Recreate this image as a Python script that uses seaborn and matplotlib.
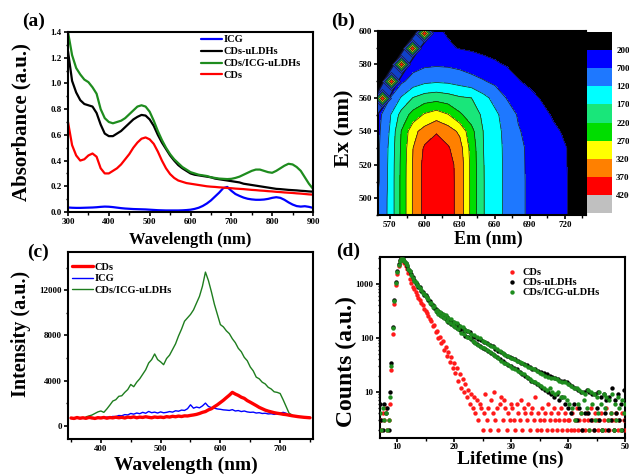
import numpy as np
import pandas as pd
import matplotlib
matplotlib.use("Agg")
import matplotlib.pyplot as plt
import seaborn as sns
from matplotlib.ticker import MultipleLocator, LogLocator, NullFormatter, FixedLocator

# ---------------- data: (a) absorbance ----------------
wl_abs = list(range(300, 901, 10))
abs_icg = [0.035, 0.033, 0.032, 0.032, 0.033, 0.034, 0.035, 0.037, 0.040, 0.042,
           0.041, 0.038, 0.034, 0.030, 0.027, 0.025, 0.023, 0.022, 0.021, 0.020,
           0.018, 0.016, 0.014, 0.013, 0.012, 0.012, 0.012, 0.012, 0.013, 0.015,
           0.018, 0.024, 0.033, 0.047, 0.066, 0.090, 0.120, 0.150, 0.185, 0.195,
           0.165, 0.140, 0.125, 0.112, 0.103, 0.098, 0.095, 0.095, 0.097, 0.102,
           0.110, 0.115, 0.110, 0.095, 0.075, 0.058, 0.046, 0.042, 0.045, 0.040, 0.032]
abs_cds_uldh = [1.25, 1.02, 0.93, 0.87, 0.84, 0.83, 0.82, 0.77, 0.68, 0.61,
                0.59, 0.59, 0.61, 0.63, 0.66, 0.69, 0.72, 0.74, 0.755, 0.75,
                0.72, 0.67, 0.60, 0.54, 0.49, 0.44, 0.40, 0.365, 0.34, 0.32,
                0.30, 0.29, 0.285, 0.28, 0.275, 0.27, 0.26, 0.255, 0.25, 0.245,
                0.24, 0.235, 0.23, 0.22, 0.215, 0.21, 0.205, 0.20, 0.195, 0.19,
                0.185, 0.18, 0.178, 0.175, 0.172, 0.17, 0.168, 0.165, 0.163, 0.16, 0.158]
abs_cds_icg_uldh = [1.40, 1.22, 1.12, 1.07, 1.03, 1.01, 0.97, 0.92, 0.80, 0.73,
                    0.70, 0.69, 0.70, 0.71, 0.73, 0.76, 0.79, 0.82, 0.83, 0.82,
                    0.78, 0.71, 0.63, 0.56, 0.50, 0.45, 0.41, 0.38, 0.35, 0.33,
                    0.31, 0.30, 0.29, 0.285, 0.28, 0.27, 0.265, 0.26, 0.258, 0.256,
                    0.258, 0.265, 0.275, 0.29, 0.305, 0.32, 0.33, 0.33, 0.32, 0.31,
                    0.305, 0.32, 0.34, 0.36, 0.375, 0.37, 0.35, 0.32, 0.27, 0.22, 0.18]
abs_cds = [0.70, 0.52, 0.44, 0.40, 0.41, 0.44, 0.455, 0.43, 0.34, 0.30,
           0.30, 0.32, 0.34, 0.37, 0.41, 0.45, 0.50, 0.54, 0.57, 0.58,
           0.565, 0.53, 0.47, 0.40, 0.34, 0.295, 0.265, 0.245, 0.235, 0.225,
           0.22, 0.215, 0.21, 0.205, 0.20, 0.197, 0.195, 0.192, 0.19, 0.187,
           0.185, 0.182, 0.18, 0.178, 0.175, 0.172, 0.17, 0.167, 0.165, 0.162,
           0.16, 0.157, 0.155, 0.152, 0.15, 0.148, 0.145, 0.143, 0.14, 0.137, 0.135]

# ---------------- data: (b) excitation-emission map ----------------
em_grid = [560, 570, 580, 590, 600, 610, 620, 630, 640, 650, 660, 670, 680, 690, 700, 710, 720, 730, 740]
ex_grid = [490, 500, 510, 520, 530, 540, 550, 560, 570, 580, 590, 600]
eem = [
    [760, 1330, 2320, 3260, 3880, 4100, 3900, 3520, 2550, 1730, 1380, 1110, 830, 610, 480, 340, 220, 130, 80],
    [740, 1330, 2320, 3260, 3880, 4100, 3900, 3520, 2550, 1730, 1380, 1110, 830, 610, 480, 340, 220, 130, 80],
    [620, 1330, 2320, 3260, 3880, 4100, 3900, 3520, 2550, 1730, 1380, 1110, 830, 610, 480, 340, 220, 130, 80],
    [620, 1320, 2310, 3250, 3870, 4090, 3890, 3510, 2540, 1725, 1375, 1105, 825, 605, 475, 335, 215, 125, 80],
    [610, 1300, 2280, 3200, 3780, 3980, 3750, 3400, 2500, 1710, 1370, 1100, 820, 600, 470, 330, 215, 125, 80],
    [580, 1230, 2220, 3050, 3400, 3650, 3450, 3100, 2350, 1700, 1350, 1080, 740, 560, 440, 260, 160, 100, 60],
    [520, 1130, 1880, 2380, 2760, 2950, 2720, 2280, 1950, 1620, 1300, 1000, 650, 480, 300, 160, 100, 60, 40],
    [150, 680, 1250, 1720, 1930, 2000, 1900, 1760, 1700, 1350, 1050, 680, 480, 300, 170, 100, 60, 40, 30],
    [100, 200, 600, 900, 1080, 1130, 1100, 1000, 880, 740, 580, 430, 220, 120, 80, 50, 40, 30, 20],
    [60, 90, 220, 500, 610, 640, 620, 560, 450, 340, 250, 170, 100, 70, 50, 40, 30, 20, 20],
    [40, 50, 80, 200, 380, 400, 260, 170, 130, 90, 70, 50, 40, 30, 30, 20, 20, 20, 20],
    [20, 30, 40, 60, 180, 260, 150, 90, 60, 50, 40, 30, 30, 20, 20, 20, 20, 20, 20],
]
eem_levels = [0, 200, 700, 1200, 1700, 2200, 2700, 3200, 3700, 4200, 5000]
eem_colors = ["#000000", "#0000ff", "#1e78ff", "#00ffff", "#19e67a",
              "#00dd00", "#ffff00", "#ff8000", "#ff0000", "#c0c0c0"]
cbar_labels = ["200", "700", "1200", "1700", "2200", "2700", "3200", "3700", "4200"]
# Rayleigh scatter band along the diagonal and its peaks
ray_em = [555, 563.5, 571, 580, 589.5, 599.5, 607]
ray_ex = [552, 560, 570, 580, 590, 599, 606]
ray_peak_em = [563.5, 571, 580, 589.5, 599.5]
ray_peak_ex = [560, 570, 580, 590, 599]

# ---------------- data: (c) PL spectra ----------------
pl_wl_start, pl_wl_step = 350, 5
pl_cds = [680, 640, 720, 660, 700, 650, 730, 690, 640, 710,
          680, 730, 660, 720, 690, 750, 700, 740, 680, 760,
          720, 780, 700, 760, 730, 790, 740, 700, 770, 730,
          760, 720, 800, 760, 830, 790, 850, 810, 870, 860,
          910, 950, 1000, 1080, 1180, 1250, 1400, 1500, 1680, 1850,
          2050, 2250, 2480, 2700, 2950, 2800, 2680, 2520, 2420, 2220,
          2080, 1930, 1780, 1620, 1500, 1380, 1290, 1220, 1150, 1100,
          1060, 1010, 980, 930, 880, 840, 800, 770, 740, 720, 700]
pl_icg = [650, 600, 680, 620, 660, 640, 700, 630, 690, 660,
          720, 680, 760, 740, 820, 800, 900, 880, 980, 950,
          1080, 1020, 1120, 1060, 1180, 1100, 1260, 1150, 1200, 1120,
          1220, 1140, 1180, 1250, 1200, 1320, 1280, 1380, 1350, 1500,
          1850, 1550, 1650, 1580, 1750, 2000, 1700, 1600, 1550, 1480,
          1450, 1400, 1380, 1350, 1420, 1300, 1340, 1250, 1300, 1220,
          1180, 1200, 1120, 1150, 1080, 1100, 1040, 1060, 1000, 1050,
          1100, 1180, 1100, 900, 880, 850, 820, 760, 740, 720, 700]
pl_g_start = 375
pl_cds_icg = [780, 860, 940, 1080, 1220, 1300, 1180, 1480, 1820, 2180,
              2300, 2600, 2650, 2950, 3200, 3650, 3450, 3850, 4150, 4550,
              4950, 5550, 5850, 6350, 5850, 5650, 5400, 5950, 6250, 6750,
              7250, 7950, 8550, 9250, 9550, 9850, 10250, 10850, 11450, 12350,
              13600, 12850, 11850, 10750, 9850, 8950, 8750, 8400, 8150, 7700,
              7350, 6850, 6550, 6050, 5750, 5200, 4850, 4300, 4150, 3850,
              3700, 3400, 3250, 3000, 2950, 2850, 2300, 1700, 1100, 950]

# ---------------- data: (d) decay curves ----------------
t_start, t_step = 7.0, 0.25
cnt_cds = ([3, 2, 4, 3, 5, 2, 3]
           + [6, 25, 120, 420, 950, 1550, 2150, 2600, 2850, 2750]
           + [2450, 2150, 1850, 1580, 1250, 1050, 880, 800]
           + [700, 620, 560, 500, 440, 400, 350, 320]
           + [285, 250, 225, 210, 165, 170, 128, 135]
           + [100, 105, 80, 88, 60, 68, 47, 55]
           + [36, 44, 28, 35, 22, 28, 16, 21]
           + [12, 17, 10, 14, 8, 11, 6, 9]
           + [5, 8, 4, 7, 3, 6, 5, 2]
           + [4, 9, 3, 5, 2, 7, 4, 10, 3, 5, 2, 6, 8, 3, 7, 5, 2, 4, 3, 6]
           + [5, 3, 2, 6, 4, 3, 7, 2, 5, 4, 3, 6, 2, 4, 5, 3, 8, 2, 4, 3]
           + [2, 5, 3, 4, 2, 6, 3, 4, 2, 5, 3, 2, 4, 3, 5, 2, 3, 4, 2, 3]
           + [3, 2, 4, 2, 3, 5, 2, 3, 4, 2, 3, 2, 4, 3, 2, 5, 3, 2, 4, 3]
           + [2, 3, 4, 2, 3, 2, 5, 3, 2, 4, 3, 2, 3, 4, 2, 3, 2, 4, 3, 2])
cnt_cds_uldh = ([6, 3, 2, 6, 4, 5, 2]
                + [10, 35, 160, 500, 1080, 1700, 2300, 2750, 2950, 2880]
                + [2680, 2430, 2180, 1920, 1720, 1500, 1320, 1170]
                + [1060, 1000, 870, 860, 740, 720, 620, 630]
                + [580, 500, 490, 420, 410, 360, 350, 300]
                + [310, 270, 285, 240, 265, 225, 240, 200]
                + [215, 180, 200, 165, 188, 150, 172, 138]
                + [155, 122, 145, 110, 136, 102, 126, 95]
                + [110, 84, 103, 78, 97, 72, 91, 66]
                + [84, 62, 80, 57, 74, 53, 70, 49]
                + [62, 45, 58, 41, 55, 38, 51, 35]
                + [46, 32, 44, 30, 42, 28, 40, 26]
                + [37, 23, 35, 21, 33, 20, 31, 18]
                + [29, 16, 27, 15, 26, 14, 24, 13]
                + [23, 12, 22, 11, 21, 10, 20, 9]
                + [19, 8, 18, 9, 17, 7, 16, 8]
                + [16, 6, 15, 5, 14, 4, 13, 6]
                + [12, 3, 11, 5, 10, 2, 10, 4]
                + [11, 4, 10, 3, 9, 2, 9, 5]
                + [10, 3, 8, 2, 9, 4, 7, 2]
                + [8, 3, 12, 2, 7, 4, 9, 3]
                + [6, 2, 11, 3])
cnt_cds_icg = ([4, 2, 5, 3, 4, 2, 3]
               + [8, 30, 150, 480, 1050, 1650, 2250, 2700, 2950, 2900]
               + [2700, 2450, 2200, 1900, 1700, 1480, 1300, 1150]
               + [1100, 960, 900, 830, 770, 690, 650, 600]
               + [540, 530, 450, 450, 380, 390, 320, 330]
               + [280, 305, 250, 275, 235, 265, 205, 230]
               + [190, 220, 175, 195, 160, 185, 145, 165]
               + [125, 160, 118, 140, 105, 135, 98, 120]
               + [88, 112, 82, 105, 75, 98, 68, 88]
               + [64, 85, 60, 78, 55, 72, 50, 68]
               + [46, 63, 42, 56, 38, 53, 35, 49]
               + [33, 46, 30, 43, 28, 40, 26, 38]
               + [24, 36, 22, 34, 21, 31, 19, 29]
               + [17, 28, 16, 26, 15, 24, 14, 22]
               + [13, 21, 12, 20, 11, 19, 12, 18]
               + [10, 18, 9, 17, 10, 16, 8, 15]
               + [8, 15, 7, 14, 6, 13, 5, 12]
               + [3, 12, 6, 11, 4, 10, 7, 9]
               + [5, 11, 2, 10, 6, 9, 3, 8]
               + [4, 10, 6, 2, 9, 5, 8, 3]
               + [7, 4, 9, 2, 6, 3, 8, 5]
               + [2, 7, 4, 6])

# ---------------- style ----------------
sns.set_theme(style="ticks")
plt.rcParams["font.family"] = ["Liberation Serif", "DejaVu Serif"]
plt.rcParams["font.weight"] = "bold"
plt.rcParams["axes.labelweight"] = "bold"
plt.rcParams["axes.linewidth"] = 1.5
plt.rcParams["axes.edgecolor"] = "black"
plt.rcParams["xtick.color"] = "black"
plt.rcParams["ytick.color"] = "black"
plt.rcParams["text.color"] = "black"
plt.rcParams["axes.labelcolor"] = "black"

W, H = 629, 474
fig = plt.figure(figsize=(W / 100, H / 100), dpi=100)
fig.patch.set_facecolor("white")


def px_axes(l, t, r, b):
    return fig.add_axes([l / W, 1 - b / H, (r - l) / W, (b - t) / H])


ax_a = px_axes(68, 32, 313, 212)
ax_b = px_axes(378, 31, 586, 215)
cax = px_axes(587, 32, 612, 213)
ax_c = px_axes(68, 252, 313, 439)
ax_d = px_axes(380, 257, 625, 438)


def style_ticks(ax, size=6.5):
    ax.tick_params(which="major", direction="out", length=3, width=1.2,
                   labelsize=size, pad=1.5)
    ax.tick_params(which="minor", direction="out", length=1.8, width=1.0)
    for lab in ax.get_xticklabels() + ax.get_yticklabels():
        lab.set_fontweight("bold")
    for sp in ax.spines.values():
        sp.set_linewidth(1.5)
        sp.set_color("black")


def set_labels(ax, xl, yl, xs, ys, xpos, ypos):
    ax.set_xlabel(xl, fontsize=xs, fontweight="bold")
    ax.set_ylabel(yl, fontsize=ys, fontweight="bold")
    ax.xaxis.label.set_verticalalignment("center")
    ax.yaxis.label.set_verticalalignment("center")
    ax.xaxis.set_label_coords(*xpos)
    ax.yaxis.set_label_coords(*ypos)


# ---------------- (a) ----------------
for yv, col, lab in [(abs_icg, "#0000ff", "ICG"),
                     (abs_cds_uldh, "#000000", "CDs-uLDHs"),
                     (abs_cds_icg_uldh, "#1e8c1e", "CDs/ICG-uLDHs"),
                     (abs_cds, "#ff0000", "CDs")]:
    sns.lineplot(x=wl_abs, y=yv, color=col, lw=1.6, label=lab, ax=ax_a)
ax_a.set_xlim(300, 900)
ax_a.set_ylim(0, 1.4)
ax_a.xaxis.set_major_locator(MultipleLocator(100))
ax_a.xaxis.set_minor_locator(MultipleLocator(50))
ax_a.yaxis.set_major_locator(MultipleLocator(0.2))
ax_a.yaxis.set_minor_locator(MultipleLocator(0.1))
ax_a.yaxis.set_major_formatter(matplotlib.ticker.FormatStrFormatter("%.1f"))
style_ticks(ax_a)
set_labels(ax_a, "Wavelength (nm)", "Absorbance (a.u.)", 12, 15,
           (0.5, -0.155), (-0.19, 0.5))
ax_a.legend(loc="upper left", bbox_to_anchor=(0.53, 1.0), frameon=False,
            handlelength=2.0, handletextpad=0.15,
            labelspacing=0.25, borderaxespad=0, borderpad=0.3,
            prop={"weight": "bold", "size": 7.5})

# ---------------- (b) ----------------
Em, Ex = np.meshgrid(em_grid, ex_grid)
Z = np.array(eem, dtype=float)
cs = ax_b.contourf(Em, Ex, Z, levels=eem_levels, colors=eem_colors)
ax_b.contour(Em, Ex, Z, levels=eem_levels[1:-1], colors="#1a1a1a", linewidths=0.5)
ax_b.plot(ray_em, ray_ex, color="#101030", lw=10, solid_capstyle="butt", zorder=3)
ax_b.plot(ray_em, ray_ex, color="#1040c8", lw=8, solid_capstyle="butt", zorder=3)
for ms, c in [(9.5, "#1a3cff"), (7.6, "#00c8ff"), (5.8, "#00c040"),
              (4.0, "#e8e800"), (2.2, "#ff2000")]:
    ax_b.plot(ray_peak_em, ray_peak_ex, ls="none", marker="D", ms=ms,
              mfc=c, mec="#202020", mew=0.5, zorder=4)
ax_b.set_xlim(560, 738)
ax_b.set_ylim(490, 600)
ax_b.xaxis.set_major_locator(FixedLocator([570, 600, 630, 660, 690, 720]))
ax_b.xaxis.set_minor_locator(MultipleLocator(15))
ax_b.yaxis.set_major_locator(MultipleLocator(20))
ax_b.yaxis.set_minor_locator(MultipleLocator(10))
style_ticks(ax_b)
set_labels(ax_b, "Em (nm)", "Ex (nm)", 13, 16,
           (0.53, -0.135), (-0.16, 0.47))

cb = fig.colorbar(cs, cax=cax, ticks=[int(v) for v in cbar_labels])
cax.invert_yaxis()
cb.outline.set_visible(False)
cax.tick_params(length=0, labelsize=6.5, pad=3)
cax.set_yticklabels(cbar_labels, fontweight="bold")

# ---------------- (c) ----------------
wl_pl = pl_wl_start + pl_wl_step * np.arange(len(pl_cds))
wl_pl_g = pl_g_start + pl_wl_step * np.arange(len(pl_cds_icg))
sns.lineplot(x=wl_pl, y=pl_icg, color="#0000ff", lw=1.0, ax=ax_c)
sns.lineplot(x=wl_pl_g, y=pl_cds_icg, color="#1e7d1e", lw=1.0, ax=ax_c)
sns.lineplot(x=wl_pl, y=pl_cds, color="#ff0000", lw=2.4, ax=ax_c)
ax_c.set_xlim(345, 755)
ax_c.set_ylim(-1180, 15380)
ax_c.xaxis.set_major_locator(MultipleLocator(100))
ax_c.xaxis.set_minor_locator(MultipleLocator(50))
ax_c.yaxis.set_major_locator(MultipleLocator(4000))
ax_c.yaxis.set_minor_locator(MultipleLocator(2000))
style_ticks(ax_c)
set_labels(ax_c, "Wavelength (nm)", "Intensity (a.u.)", 14, 14.5,
           (0.48, -0.14), (-0.19, 0.56))
h_c = [plt.Line2D([], [], color="#ff0000", lw=2.4),
       plt.Line2D([], [], color="#0000ff", lw=1.0),
       plt.Line2D([], [], color="#1e7d1e", lw=1.0)]
ax_c.legend(h_c, ["CDs", "ICG", "CDs/ICG-uLDHs"], loc="upper left",
            bbox_to_anchor=(0.008, 0.955), frameon=False,
            handlelength=2.0, handletextpad=0.15, labelspacing=0.2,
            borderaxespad=0, borderpad=0.2,
            prop={"weight": "bold", "size": 7.5})

# ---------------- (d) ----------------
t_d = t_start + t_step * np.arange(len(cnt_cds))
for cv, col, lab in [(cnt_cds, "#ff1a1a", "CDs"),
                     (cnt_cds_uldh, "#000000", "CDs-uLDHs"),
                     (cnt_cds_icg, "#1e8c1e", "CDs/ICG-uLDHs")]:
    sns.scatterplot(x=t_d, y=cv, color=col, s=10, linewidth=0, label=lab,
                    ax=ax_d, zorder=3)
ax_d.set_yscale("log")
ax_d.set_xlim(7, 50)
ax_d.set_ylim(1.4, 3150)
ax_d.xaxis.set_major_locator(MultipleLocator(10))
ax_d.xaxis.set_minor_locator(MultipleLocator(5))
ax_d.yaxis.set_major_locator(FixedLocator([10, 100, 1000]))
ax_d.yaxis.set_major_formatter(matplotlib.ticker.FixedFormatter(["10", "100", "1000"]))
ax_d.yaxis.set_minor_locator(LogLocator(base=10, subs=np.arange(2, 10)))
ax_d.yaxis.set_minor_formatter(NullFormatter())
style_ticks(ax_d)
ax_d.tick_params(axis="x", which="major", pad=0.8)
set_labels(ax_d, "Lifetime (ns)", "Counts (a.u.)", 14, 17,
           (0.53, -0.12), (-0.135, 0.42))
ax_d.legend(loc="upper left", bbox_to_anchor=(0.51, 0.955), frameon=False,
            handlelength=1.0, handletextpad=0.5, labelspacing=0.1,
            borderaxespad=0, borderpad=0.2, markerscale=1.0,
            prop={"weight": "bold", "size": 7.5})

# ---------------- panel letters ----------------
for txt, x, y in [("(a)", 34, 21), ("(b)", 343, 21), ("(c)", 38, 252), ("(d)", 348, 251)]:
    fig.text(x / W, 1 - y / H, txt, ha="center", va="center",
             fontsize=14, fontweight="bold")

fig.savefig("out.png", dpi=100, facecolor="white")
